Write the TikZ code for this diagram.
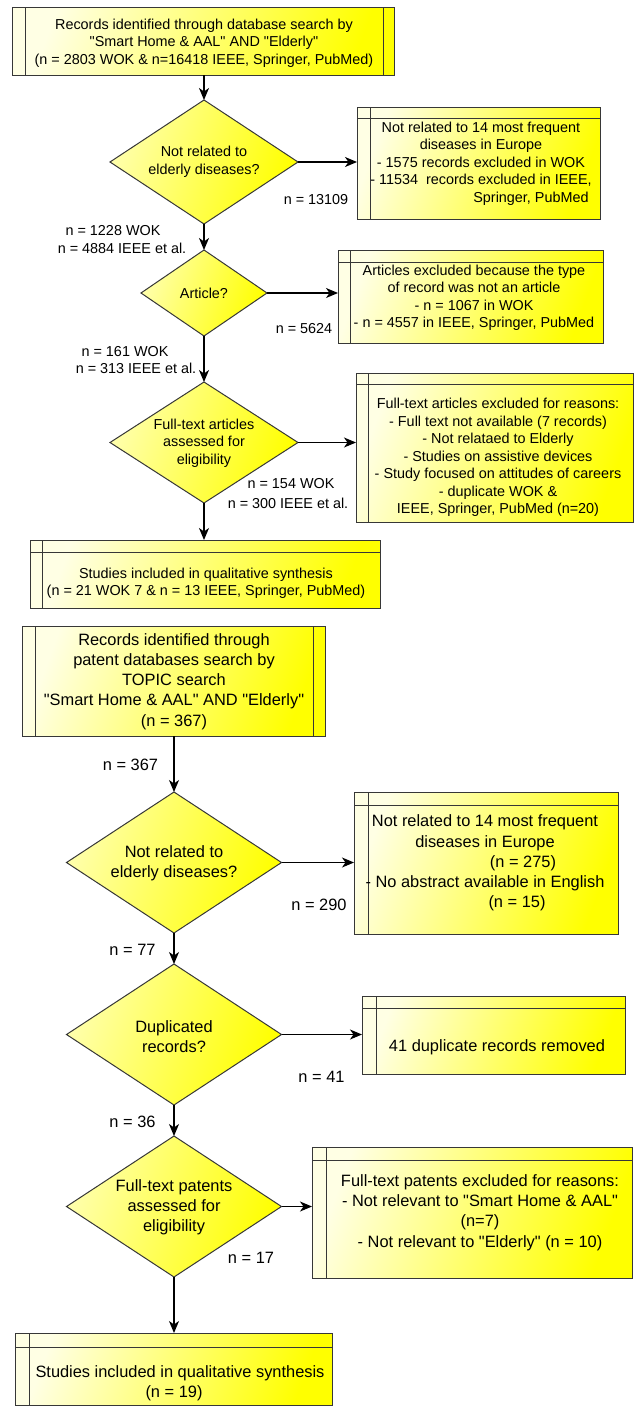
\documentclass[tikz,border=0pt]{standalone}
\usepackage{fontspec}
\setmainfont{Liberation Sans}
\newfontfamily\libsans{Liberation Sans}
\usetikzlibrary{arrows.meta,shapes.geometric}
\definecolor{boxpale}{RGB}{255,255,228}
\definecolor{diapale}{RGB}{255,255,170}
\definecolor{edgecol}{RGB}{55,55,55}
\tikzset{
  base/.style={draw=edgecol, line width=1pt, inner sep=0pt, outer sep=0pt},
  ybox/.style={base, rectangle, left color=boxpale, right color=yellow, shading angle=70, anchor=north west},
  dia/.style={base, diamond, left color=diapale, right color=yellow, shading angle=70},
  hbox/.style 2 args={path picture={
    \draw[edgecol,line width=1pt] ([xshift=#1]path picture bounding box.north west) -- ([xshift=#1]path picture bounding box.south west);
    \draw[edgecol,line width=1pt] ([yshift=-#2]path picture bounding box.north west) -- ([yshift=-#2]path picture bounding box.north east);
  }},
  dbox/.style 2 args={path picture={
    \draw[edgecol,line width=1pt] ([xshift=#1]path picture bounding box.north west) -- ([xshift=#1]path picture bounding box.south west);
    \draw[edgecol,line width=1pt] ([xshift=-#2]path picture bounding box.north east) -- ([xshift=-#2]path picture bounding box.south east);
  }},
  t/.style={font=\libsans\fontsize{14.4pt}{17.5pt}\selectfont, align=center, inner sep=0pt},
  tb/.style={font=\libsans\fontsize{16.4pt}{20.2pt}\selectfont, align=center, inner sep=0pt},
  arr/.style={draw=black, line width=1.1pt, -{Stealth[length=12pt,width=10pt,inset=3.5pt]}}
}
\begin{document}
\begin{tikzpicture}[x=1pt,y=-1pt]
\useasboundingbox (0,0) rectangle (639,1408);

% ---------------- top part ----------------
\node[ybox, dbox={13pt}{11pt}, minimum width=382pt, minimum height=68pt] (b1) at (12,7) {};
\node[t] (b1t) at (204,43) {Records identified through database search by\\ "Smart Home \& AAL" AND "Elderly"\\ (n = 2803 WOK \& n=16418 IEEE, Springer, PubMed)};

\node[dia, minimum width=188pt, minimum height=124pt] (d1) at (204,162) {};
\node[t] (d1t) at (204,162) {Not related to\\ elderly diseases?};

\node[ybox, hbox={13pt}{11pt}, minimum width=243pt, minimum height=112pt] (b2) at (357,107) {};
\node[t] (b2t) at (481,163.5) {Not related to 14 most frequent\\ diseases in Europe\\ - 1575 records excluded in WOK\\ - 11534~ records excluded in IEEE,\\ \hspace*{100pt}Springer, PubMed};

\node[t] (n1) at (316,200) {n = 13109};
\node[t] (n2a) at (113,231) {n = 1228 WOK};
\node[t] (n2b) at (122,248) {n = 4884 IEEE et al.};

\node[dia, minimum width=126pt, minimum height=86pt] (d2) at (204,293) {};
\node[t] (d2t) at (204,293) {Article?};

\node[ybox, hbox={12pt}{12pt}, minimum width=265pt, minimum height=93pt] (b3) at (338,250) {};
\node[t] (b3t) at (474,298) {Articles excluded because the type\\ of record was not an article\\ - n = 1067 in WOK\\ - n = 4557 in IEEE, Springer, PubMed};

\node[t] (n3) at (304,329) {n = 5624};
\node[t] (n4a) at (125,352) {n = 161 WOK};
\node[t] (n4b) at (136,368) {n = 313 IEEE et al.};

\node[dia, minimum width=188pt, minimum height=121pt] (d3) at (204,442.5) {};
\node[t] (d3t) at (204,443) {Full-text articles\\ assessed for\\ eligibility};

\node[ybox, hbox={12pt}{11pt}, minimum width=277pt, minimum height=149pt] (b4) at (356,373) {};
\node[t] (b4t) at (498,457.5) {Full-text articles excluded for reasons:\\ - Full text not available (7 records)\\ - Not relataed to Elderly\\ - Studies on assistive devices\\ - Study focused on attitudes of careers\\ - duplicate WOK \&\\ IEEE, Springer, PubMed (n=20)};

\node[t] (n5a) at (291,484) {n = 154 WOK};
\node[t] (n5b) at (288,503) {n = 300 IEEE et al.};

\node[ybox, hbox={12pt}{12pt}, minimum width=350pt, minimum height=68pt] (b5) at (30,540) {};
\node[t] (b5t) at (206,583.5) {Studies included in qualitative synthesis\\ (n = 21 WOK 7 \& n = 13 IEEE, Springer, PubMed)};

\draw[arr] (b1.south -| d1.north) -- (d1.north);
\draw[arr] (d1.east) -- (d1.east -| b2.west);
\draw[arr] (d1.south) -- (d2.north);
\draw[arr] (d2.east) -- (d2.east -| b3.west);
\draw[arr] (d2.south) -- (d3.north);
\draw[arr] (d3.east) -- (d3.east -| b4.west);
\draw[arr] (d3.south) -- (d3.south |- b5.north);

% ---------------- bottom part ----------------
\node[ybox, dbox={13pt}{12pt}, minimum width=303pt, minimum height=110pt] (b6) at (22,626) {};
\node[tb] (b6t) at (174,681.5) {Records identified through\\ patent databases search by\\ TOPIC search\\ "Smart Home \& AAL" AND "Elderly"\\ (n = 367)};

\node[tb] (n6) at (130.5,765) {n = 367};

\node[dia, minimum width=215pt, minimum height=141pt] (d4) at (174,862.5) {};
\node[tb] (d4t) at (174,863.5) {Not related to\\ elderly diseases?};

\node[ybox, hbox={14pt}{13pt}, minimum width=264pt, minimum height=142pt] (b7) at (354,792) {};
\node[tb] (b7t) at (485,863) {Not related to 14 most frequent\\ diseases in Europe\\ \hspace*{76pt}(n = 275)\\ - No abstract available in English\\ \hspace*{64pt}(n = 15)};

\node[tb] (n7) at (319,905) {n = 290};
\node[tb] (n8) at (132.5,950) {n = 77};

\node[dia, minimum width=215pt, minimum height=141pt] (d5) at (174,1034.5) {};
\node[tb] (d5t) at (174,1036.5) {Duplicated\\ records?};

\node[ybox, hbox={14pt}{12pt}, minimum width=263pt, minimum height=78pt] (b8) at (362,996) {};
\node[tb] (b8t) at (497,1047) {41 duplicate records removed};

\node[tb] (n9) at (321.5,1077) {n = 41};
\node[tb] (n10) at (132.5,1122) {n = 36};

\node[dia, minimum width=215pt, minimum height=141pt] (d6) at (174,1206.5) {};
\node[tb] (d6t) at (174,1207) {Full-text patents\\ assessed for\\ eligibility};

\node[ybox, hbox={14pt}{13pt}, minimum width=320pt, minimum height=131pt] (b9) at (312,1147) {};
\node[tb] (b9t) at (480,1212.5) {Full-text patents excluded for reasons:\\ - Not relevant to "Smart Home \& AAL"\\ (n=7)\\ - Not relevant to "Elderly" (n = 10)};

\node[tb] (n11) at (251,1258) {n = 17};

\node[ybox, hbox={14pt}{14pt}, minimum width=317pt, minimum height=72pt] (b10) at (15,1333) {};
\node[tb] (b10t) at (180,1383) {Studies included in qualitative synthesis\\ (n = 19)\hspace*{12pt}};

\draw[arr] (b6.south -| d4.north) -- (d4.north);
\draw[arr] (d4.east) -- (d4.east -| b7.west);
\draw[arr] (d4.south) -- (d5.north);
\draw[arr] (d5.east) -- (d5.east -| b8.west);
\draw[arr] (d5.south) -- (d6.north);
\draw[arr] (d6.east) -- (d6.east -| b9.west);
\draw[arr] (d6.south) -- (d6.south |- b10.north);
\end{tikzpicture}
\end{document}
